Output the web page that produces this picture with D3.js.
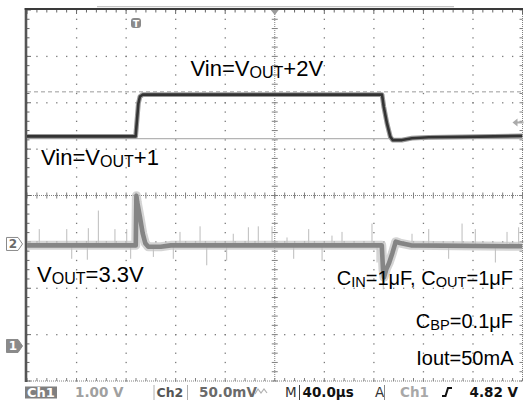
<!DOCTYPE html>
<html>
<head>
<meta charset="utf-8">
<script src="https://cdn.jsdelivr.net/npm/d3@7"></script>
<style>
  html, body { margin: 0; padding: 0; background: #fff; }
  svg { display: block; }
</style>
</head>
<body>
<svg id="scope" width="525" height="400"></svg>
<script>
// ---- Acquisition settings ----
const timeWindow = [-88, 312];   // µs across 10 div (40 µs/div), trigger at t = 0
const ch1VoltsPerDiv = 1.0;      // V/div
const ch1Position = -3.245;      // div, Ch1 ground reference
const ch2mVPerDiv = 50;          // mV/div, AC coupled
const ch2Position = -1.045;      // div, Ch2 reference
const triggerLevel = 4.82;       // V on Ch1, rising edge
const cursorUpper = 5.48;        // V, dashed cursor
const cursorLower = 4.47;        // V, solid cursor

// ---- Ch1: input voltage step (V) ----
const ch1Time  = [-88, -0.3, 1.9, 3.2, 5.5, 198.6, 200.0, 202.6, 205.3, 207.2, 214.7, 222.8, 236.3, 263.2, 312];
const ch1Volts = [4.52, 4.52, 5.23, 5.38, 5.42, 5.42, 5.16, 4.80, 4.51, 4.44, 4.44, 4.48, 4.50, 4.51, 4.53];

// ---- Ch2: output voltage deviation (mV) ----
const ch2Time = [-88, -0.2, 0.3, 1.0, 3.2, 5.4, 7.5, 9.9, 20, 28, 198.4, 199.4, 200.2, 202.1, 204.3, 207.0, 209.7, 213.1, 222, 312];
const ch2mV   = [-1.5, -1.5, 52, 45, 29, 11.5, 0.8, -3, -3, -1.5, -1.5, -28, -36, -27, -20.5, -9.7, 2.5, 1, -1.5, -2.5];
const ch2Baseline = -1.5;
// isolated noise spikes on Ch2 (time µs, peak mV)
const ch2SpikeTime = [-78.1, -55.9, -51.9, -39.3, -38.5, -30.4, -17.0, -7.5, -4.3, 14.0, 30.1, 35.5, 51.7, 57.1, 73.2, 78.5, 90.7, 98.7,
                      109.8, 121.9, 127.3, 139.4, 150.2, 158.2, 166.3, 190.5, 194.6, 199.6, 222.8, 236.3, 252.4, 263.2, 273.9, 290.1, 299.5, 308.9];
const ch2SpikeMV   = [16, 16, -16, -17, 17, 36, 16, 16, -16, -14, -16, 13, 19, -23, -18, 11, 18, 19,
                      19, 7, -16, 16, -18, 9, 13, 22, -20, -49, 11, 16, -16, 22, 16, -20, 13, 18];

// ---- Annotation texts (segments: [text, subscript?]) ----
const labelVinHigh = [["Vin=V", false], ["OUT", true], ["+2V", false]];
const labelVinLow  = [["Vin=V", false], ["OUT", true], ["+1", false]];
const labelVout    = [["V", false], ["OUT", true], ["=3.3V", false]];
const labelCaps    = [["C", false], ["IN", true], ["=1μF, C", false], ["OUT", true], ["=1μF", false]];
const labelCbp     = [["C", false], ["BP", true], ["=0.1μF", false]];
const labelIout    = [["Iout=50mA", false]];

// ---- Readout bar ----
const readCh1Scale = "1.00 V";
const readCh2Scale = "50.0mV";
const readTimebase = "40.0µs";
const readTrigLevel = "4.82 V";

// ---------------------------------------------------------------
(function drawScope() {
const svg = d3.select("#scope");
const gL = 27, gR = 522.5, gT = 10, gB = 381;

const x = d3.scaleLinear().domain(timeWindow).range([gL, gR]);
const xd = d3.scaleLinear().domain([0, 10]).range([gL, gR]);   // horizontal divisions
const yd = d3.scaleLinear().domain([-4, 4]).range([gB, gT]);   // vertical divisions
const y1 = v => yd(v / ch1VoltsPerDiv + ch1Position);
const y2 = mv => yd(mv / ch2mVPerDiv + ch2Position);

const grid = svg.append("g");
const dotColor = "#7a7a7a";
const minorX = d3.range(0, 51).map(i => xd(i / 5));
const minorY = d3.range(0, 41).map(j => yd(j / 5 - 4));

// interior graticule: dotted lines, one dot per minor step
d3.range(1, 10).filter(i => i !== 5).forEach(i => {
  grid.selectAll(null).data(minorY).join("rect")
    .attr("x", xd(i) - 0.6).attr("y", d => d - 0.6).attr("width", 1.3).attr("height", 1.3)
    .attr("fill", dotColor);
});
d3.range(-3, 4).filter(j => j !== 0).forEach(j => {
  grid.selectAll(null).data(minorX).join("rect")
    .attr("x", d => d - 0.6).attr("y", yd(j) - 0.6).attr("width", 1.3).attr("height", 1.3)
    .attr("fill", dotColor);
});

// centre axes and right/bottom edges: fine dotted with minor ticks
function hAxis(yy, tickUp, tickDown) {
  grid.append("line").attr("x1", gL).attr("x2", gR).attr("y1", yy).attr("y2", yy)
    .attr("stroke", "#808080").attr("stroke-width", 1).attr("stroke-dasharray", "1,1");
  grid.selectAll(null).data(minorX).join("line")
    .attr("x1", d => d).attr("x2", d => d)
    .attr("y1", yy - tickUp).attr("y2", yy + tickDown)
    .attr("stroke", "#808080").attr("stroke-width", 1);
}
function vAxis(xx, tickLeft, tickRight) {
  grid.append("line").attr("x1", xx).attr("x2", xx).attr("y1", gT).attr("y2", gB)
    .attr("stroke", "#808080").attr("stroke-width", 1).attr("stroke-dasharray", "1,1");
  grid.selectAll(null).data(minorY).join("line")
    .attr("y1", d => d).attr("y2", d => d)
    .attr("x1", xx - tickLeft).attr("x2", xx + tickRight)
    .attr("stroke", "#808080").attr("stroke-width", 1);
}
hAxis(yd(0), 3, 3);
vAxis(xd(5), 3, 3);
hAxis(gB, 3, 0);
vAxis(gR, 3, 0);

// solid left and top frame with inward ticks
grid.selectAll(null).data(minorY).join("line")
  .attr("x1", gL).attr("x2", (d, i) => gL + (i % 5 === 0 ? 4 : 2.5))
  .attr("y1", d => d).attr("y2", d => d)
  .attr("stroke", "#666").attr("stroke-width", 1);
grid.selectAll(null).data(minorX).join("line")
  .attr("y1", gT).attr("y2", (d, i) => gT + (i % 5 === 0 ? 4 : 2.5))
  .attr("x1", d => d).attr("x2", d => d)
  .attr("stroke", "#666").attr("stroke-width", 1);
grid.append("line").attr("x1", gL - 1).attr("x2", gL - 1).attr("y1", gT - 2).attr("y2", gB + 1)
  .attr("stroke", "#555").attr("stroke-width", 2.6);
grid.append("line").attr("x1", gL - 2.3).attr("x2", gR + 0.5).attr("y1", gT - 1).attr("y2", gT - 1)
  .attr("stroke", "#3a3a3a").attr("stroke-width", 2.2);

// record position bar above the frame
svg.append("line").attr("x1", 97).attr("x2", 454).attr("y1", 6.6).attr("y2", 6.6)
  .attr("stroke", "#c4c4c4").attr("stroke-width", 1.4);

// horizontal position marker
const cx = xd(5);
svg.append("path").attr("d", `M${cx - 4},${gT}L${cx + 4},${gT}L${cx},${gT + 5}Z`).attr("fill", "#9a9a9a");

// cursors
const plot = svg.append("g");
plot.append("line").attr("x1", gL).attr("x2", gR).attr("y1", y1(cursorUpper)).attr("y2", y1(cursorUpper))
  .attr("stroke", "#9a9a9a").attr("stroke-width", 1).attr("stroke-dasharray", "4,3");
plot.append("line").attr("x1", gL).attr("x2", gR).attr("y1", y1(cursorLower)).attr("y2", y1(cursorLower))
  .attr("stroke", "#b4b4b4").attr("stroke-width", 1.2);

// clip region for traces
svg.append("clipPath").attr("id", "screen").append("rect")
  .attr("x", gL).attr("y", gT).attr("width", gR - gL).attr("height", gB - gT);
const traces = svg.append("g").attr("clip-path", "url(#screen)");

// Ch2 trace
const ch2Data = ch2Time.map((t, i) => [t, ch2mV[i]]);
const line2 = d3.line().x(d => x(d[0])).y(d => y2(d[1]));
traces.selectAll(null).data(ch2SpikeTime).join("line")
  .attr("x1", d => x(d)).attr("x2", d => x(d))
  .attr("y1", y2(ch2Baseline)).attr("y2", (d, i) => y2(ch2SpikeMV[i]))
  .attr("stroke", "#bcbcbc").attr("stroke-width", 1);
traces.append("path").attr("d", line2(ch2Data)).attr("fill", "none")
  .attr("stroke", "#c2c2c2").attr("stroke-opacity", 0.7).attr("stroke-width", 9)
  .attr("stroke-linejoin", "round");
traces.append("path").attr("d", line2(ch2Data)).attr("fill", "none")
  .attr("stroke", "#858585").attr("stroke-width", 4.6).attr("stroke-linejoin", "round");

// Ch1 trace
const ch1Data = ch1Time.map((t, i) => [t, ch1Volts[i]]);
const line1 = d3.line().x(d => x(d[0])).y(d => y1(d[1]));
traces.append("path").attr("d", line1(ch1Data)).attr("fill", "none")
  .attr("stroke", "#9a9a9a").attr("stroke-width", 4.8).attr("stroke-linejoin", "round");
traces.append("path").attr("d", line1(ch1Data)).attr("fill", "none")
  .attr("stroke", "#333").attr("stroke-width", 2.6).attr("stroke-linejoin", "round");

// trigger time marker
const tx = x(0);
svg.append("rect").attr("x", tx - 5).attr("y", 18).attr("width", 10).attr("height", 10).attr("rx", 3)
  .attr("fill", "#8a8a8a");
svg.append("text").attr("x", tx).attr("y", 26.5).attr("text-anchor", "middle")
  .attr("font-family", "DejaVu Sans").attr("font-weight", "bold").attr("font-size", 9)
  .attr("fill", "#fff").text("T");

// trigger level marker
const ty = y1(triggerLevel);
svg.append("path").attr("d", `M${gR - 10},${ty}L${gR - 5},${ty - 4}L${gR - 5},${ty + 4}Z`).attr("fill", "#aaa");
svg.append("line").attr("x1", gR - 6).attr("x2", gR + 1).attr("y1", ty).attr("y2", ty)
  .attr("stroke", "#aaa").attr("stroke-width", 2);

// channel reference markers
function chanMarker(cy, label, filled) {
  const g = svg.append("g");
  g.append("path")
    .attr("d", `M6.5,${cy - 6.5}L18,${cy - 6.5}L22.5,${cy}L18,${cy + 6.5}L6.5,${cy + 6.5}Z`)
    .attr("fill", filled ? "#8a8a8a" : "#fff").attr("stroke", "#8a8a8a").attr("stroke-width", 1);
  g.append("text").attr("x", 13).attr("y", cy + 4.5).attr("text-anchor", "middle")
    .attr("font-family", "DejaVu Sans").attr("font-weight", "bold").attr("font-size", 12)
    .attr("fill", filled ? "#fff" : "#6a6a6a").text(label);
}
chanMarker(y2(0), "2", false);
chanMarker(y1(0), "1", true);

// annotations
function annotate(px, py, parts, size, anchor) {
  const t = svg.append("text").attr("x", px).attr("y", py)
    .attr("font-family", "'Liberation Sans', Arial, sans-serif").attr("font-size", size)
    .attr("text-anchor", anchor).attr("fill", "#000");
  let shifted = false;
  parts.forEach(([s, sub]) => {
    const sp = t.append("tspan").text(s);
    if (sub) { sp.attr("font-size", size * 0.73).attr("dy", size * 0.12); shifted = true; }
    else if (shifted) { sp.attr("dy", -size * 0.12); shifted = false; }
  });
}
annotate(190.5, 75.7, labelVinHigh, 22, "start");
annotate(41, 164.5, labelVinLow, 22, "start");
annotate(37, 281.7, labelVout, 22, "start");
annotate(513, 285, labelCaps, 20, "end");
annotate(513, 328, labelCbp, 20, "end");
annotate(513.5, 365, labelIout, 20, "end");

// readout bar
const rb = svg.append("g").attr("font-family", "'DejaVu Sans', sans-serif").attr("font-weight", "bold")
  .attr("font-size", 13.5);
const baseY = 397;
rb.append("rect").attr("x", 25).attr("y", 386.5).attr("width", 32).attr("height", 12).attr("fill", "#7f7f7f");
rb.append("text").attr("x", 41).attr("y", baseY).attr("text-anchor", "middle").attr("fill", "#fff")
  .attr("font-size", 13).text("Ch1");
rb.append("text").attr("x", 75).attr("y", baseY).attr("fill", "#a0a0a0").text(readCh1Scale);
rb.append("line").attr("x1", 154).attr("x2", 154).attr("y1", 385).attr("y2", 400).attr("stroke", "#b0b0b0");
rb.append("text").attr("x", 156.5).attr("y", baseY).attr("fill", "#555").attr("font-size", 12.5).text("Ch2");
rb.append("line").attr("x1", 187.5).attr("x2", 187.5).attr("y1", 385).attr("y2", 400).attr("stroke", "#b0b0b0");
rb.append("text").attr("x", 199).attr("y", baseY).attr("fill", "#6a6a6a").text(readCh2Scale);
// AC coupling / bandwidth glyph
rb.append("path").attr("d", "M255,394 L258,389 L261,393 L264,389 L267,393")
  .attr("fill", "none").attr("stroke", "#b0b0b0").attr("stroke-width", 1.2);
rb.append("text").attr("x", 285).attr("y", baseY).attr("fill", "#333").attr("font-weight", "normal").text("M");
rb.append("line").attr("x1", 299.5).attr("x2", 299.5).attr("y1", 385).attr("y2", 400).attr("stroke", "#444");
rb.append("text").attr("x", 302.5).attr("y", baseY).attr("fill", "#111").text(readTimebase);
rb.append("text").attr("x", 375).attr("y", baseY).attr("fill", "#333").attr("font-weight", "normal").text("A");
rb.append("line").attr("x1", 384.5).attr("x2", 384.5).attr("y1", 385).attr("y2", 400).attr("stroke", "#888");
rb.append("text").attr("x", 400).attr("y", baseY).attr("fill", "#a8a8a8").text("Ch1");
// rising-edge trigger slope glyph
rb.append("path").attr("d", "M442,396 L445.5,396 L448,388 L452,388")
  .attr("fill", "none").attr("stroke", "#111").attr("stroke-width", 2);
rb.append("text").attr("x", 518).attr("y", baseY).attr("text-anchor", "end").attr("fill", "#111").text(readTrigLevel);
})();
</script>
</body>
</html>
